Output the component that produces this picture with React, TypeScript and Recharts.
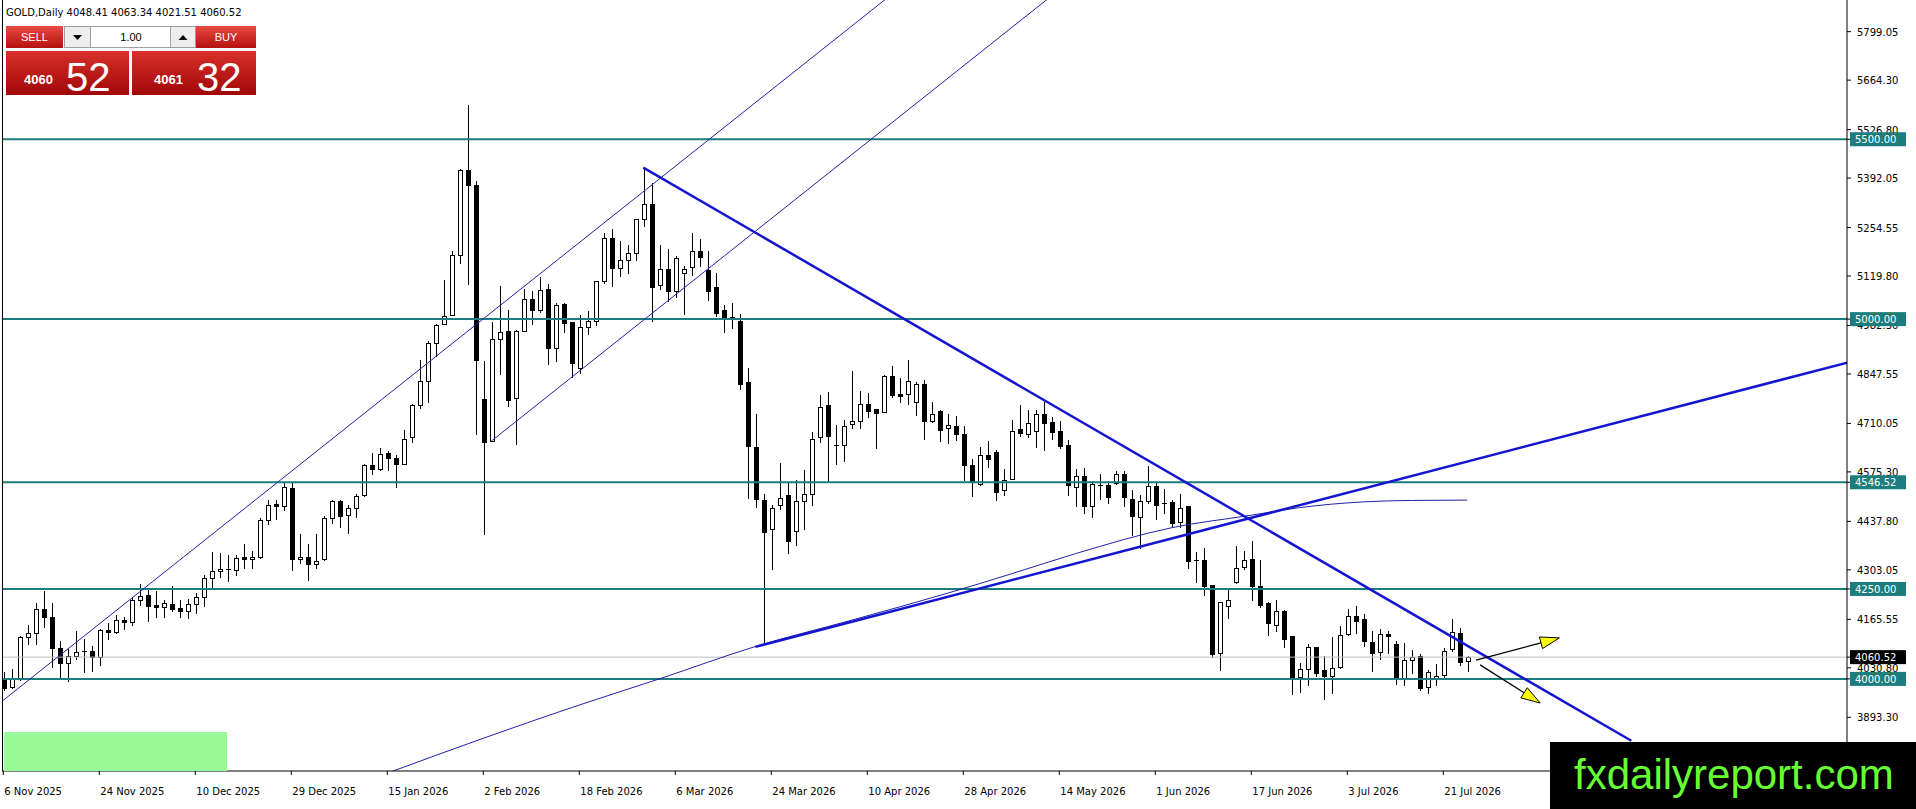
import React from "react";
import { ComposedChart, Bar, Line, XAxis, YAxis, ReferenceLine } from "recharts";

// GOLD daily bars, 6 Nov 2025 .. 24 Jul 2026 (index = bar number)
const OPEN = [
  3997, 3977, 4002, 4116, 4127, 4193, 4171, 4085, 4044, 4065,
  4076, 4078, 4062, 4136, 4129, 4164, 4157, 4219, 4234, 4206,
  4201, 4208, 4198, 4190, 4208, 4227, 4280, 4300, 4306, 4302,
  4339, 4332, 4338, 4443, 4485, 4480, 4531, 4332, 4338, 4319,
  4332, 4448, 4494, 4455, 4476, 4512, 4595, 4584, 4628, 4615,
  4596, 4671, 4760, 4829, 4934, 4986, 5012, 5178, 5415, 5372,
  4779, 4661, 4945, 4966, 4782, 4966, 5056, 5024, 5084, 4920,
  5042, 4993, 4865, 4977, 4995, 5106, 5226, 5143, 5164, 5185,
  5279, 5321, 5096, 5140, 5079, 5129, 5145, 5190, 5136, 5088,
  5025, 5005, 4996, 4824, 4645, 4497, 4416, 4483, 4511, 4412,
  4495, 4514, 4671, 4760, 4651, 4651, 4709, 4717, 4763, 4749,
  4742, 4841, 4792, 4791, 4769, 4820, 4717, 4746, 4698, 4702,
  4682, 4594, 4543, 4623, 4631, 4524, 4556, 4695, 4681, 4690,
  4736, 4715, 4690, 4651, 4533, 4565, 4480, 4540, 4540, 4544,
  4570, 4500, 4449, 4494, 4537, 4488, 4491, 4437, 4480, 4331,
  4330, 4261, 4072, 4204, 4268, 4312, 4332, 4257, 4210, 4150,
  4190, 4120, 4005, 4027, 4088, 4025, 4009, 4033, 4124, 4175,
  4166, 4102, 4076, 4125, 4097, 4002, 4053, 4064, 3977, 4000,
  4011, 4083, 4127, 4048.41,
];
const HIGH = [
  4018, 4027, 4118, 4150, 4212, 4245, 4212, 4104, 4082, 4134,
  4110, 4092, 4138, 4156, 4177, 4171, 4229, 4264, 4247, 4243,
  4218, 4258, 4219, 4221, 4240, 4289, 4352, 4349, 4345, 4345,
  4374, 4355, 4448, 4498, 4498, 4546, 4545, 4404, 4374, 4402,
  4454, 4497, 4498, 4482, 4515, 4598, 4629, 4643, 4633, 4622,
  4691, 4765, 4887, 4940, 4986, 5110, 5190, 5417, 5595, 5385,
  4883, 4993, 5091, 5024, 4969, 5084, 5077, 5118, 5098, 5044,
  5044, 4993, 5011, 5023, 5107, 5238, 5250, 5216, 5205, 5279,
  5418, 5379, 5205, 5194, 5176, 5147, 5238, 5222, 5190, 5127,
  5039, 5045, 5015, 4865, 4735, 4515, 4483, 4601, 4548, 4554,
  4580, 4685, 4790, 4797, 4705, 4719, 4857, 4799, 4794, 4749,
  4846, 4871, 4837, 4887, 4825, 4831, 4771, 4748, 4737, 4730,
  4702, 4612, 4645, 4660, 4635, 4584, 4719, 4761, 4747, 4747,
  4769, 4727, 4718, 4665, 4584, 4586, 4549, 4570, 4549, 4579,
  4579, 4525, 4510, 4592, 4544, 4528, 4496, 4515, 4480, 4354,
  4363, 4261, 4215, 4247, 4369, 4355, 4383, 4330, 4215, 4220,
  4192, 4120, 4044, 4097, 4088, 4064, 4116, 4146, 4194, 4203,
  4181, 4134, 4138, 4132, 4104, 4101, 4081, 4070, 4024, 4042,
  4085, 4166, 4141, 4063.34,
];
const LOW = [
  3968, 3975, 3997, 4097, 4097, 4144, 4034, 4005, 3995, 4055,
  4020, 4022, 4039, 4110, 4128, 4139, 4150, 4205, 4162, 4171,
  4173, 4190, 4171, 4168, 4182, 4203, 4256, 4284, 4273, 4290,
  4307, 4307, 4336, 4430, 4445, 4469, 4302, 4321, 4275, 4307,
  4330, 4432, 4423, 4406, 4450, 4508, 4569, 4580, 4580, 4534,
  4596, 4659, 4753, 4770, 4897, 4986, 5012, 5155, 5097, 4682,
  4404, 4661, 4848, 4759, 4654, 4966, 4987, 5019, 4876, 4883,
  4964, 4839, 4850, 4960, 4983, 5101, 5092, 5120, 5129, 5165,
  5259, 4995, 5085, 5050, 5062, 5013, 5124, 5148, 5053, 5009,
  4965, 4974, 4807, 4502, 4477, 4099, 4305, 4471, 4349, 4372,
  4418, 4483, 4659, 4548, 4598, 4606, 4698, 4698, 4728, 4642,
  4742, 4783, 4769, 4765, 4734, 4668, 4714, 4661, 4656, 4665,
  4552, 4509, 4538, 4589, 4497, 4511, 4556, 4676, 4673, 4644,
  4636, 4667, 4641, 4510, 4480, 4461, 4449, 4500, 4488, 4542,
  4480, 4399, 4364, 4488, 4445, 4461, 4422, 4423, 4307, 4268,
  4233, 4062, 4024, 4169, 4266, 4305, 4218, 4201, 4122, 4134,
  4090, 3958, 3963, 3982, 4007, 3944, 3962, 4030, 4122, 4127,
  4092, 4021, 4055, 4072, 3986, 3982, 4016, 3968, 3962, 3982,
  4005, 4078, 4039, 4021.51,
];
const CLOSE = [
  3975, 4002, 4116, 4127, 4193, 4171, 4085, 4044, 4065, 4076,
  4078, 4062, 4136, 4129, 4164, 4157, 4219, 4231, 4203, 4201,
  4210, 4194, 4190, 4208, 4227, 4280, 4300, 4305, 4302, 4337,
  4332, 4339, 4443, 4482, 4480, 4533, 4332, 4338, 4318, 4327,
  4448, 4494, 4452, 4476, 4508, 4595, 4584, 4626, 4615, 4596,
  4668, 4762, 4829, 4934, 4984, 5008, 5178, 5415, 5373, 4887,
  4659, 4945, 4965, 4776, 4966, 5056, 5024, 5081, 4920, 5040,
  4989, 4877, 4977, 4995, 5107, 5226, 5143, 5165, 5185, 5279,
  5321, 5088, 5140, 5079, 5171, 5138, 5190, 5173, 5079, 5018,
  5002, 5000, 4819, 4648, 4499, 4407, 4474, 4504, 4383, 4494,
  4514, 4668, 4756, 4675, 4647, 4702, 4718, 4763, 4746, 4740,
  4841, 4790, 4787, 4828, 4820, 4717, 4737, 4691, 4707, 4682,
  4594, 4550, 4621, 4612, 4520, 4554, 4690, 4683, 4712, 4736,
  4711, 4687, 4648, 4540, 4565, 4480, 4542, 4535, 4505, 4570,
  4505, 4452, 4494, 4537, 4484, 4485, 4432, 4474, 4329, 4329,
  4258, 4069, 4213, 4220, 4307, 4330, 4257, 4206, 4155, 4190,
  4110, 4000, 4027, 4088, 4016, 4007, 4029, 4122, 4175, 4162,
  4104, 4073, 4125, 4118, 4000, 4053, 4060, 3974, 4019, 4007,
  4078, 4130, 4048, 4060.52,
];

const DATE_TICKS = [0, 12, 24, 36, 48, 60, 72, 84, 96, 108, 120, 132, 144, 156, 168, 180];
const DATE_LABELS = [
  "6 Nov 2025", "24 Nov 2025", "10 Dec 2025", "29 Dec 2025", "15 Jan 2026", "2 Feb 2026",
  "18 Feb 2026", "6 Mar 2026", "24 Mar 2026", "10 Apr 2026", "28 Apr 2026", "14 May 2026",
  "1 Jun 2026", "17 Jun 2026", "3 Jul 2026", "21 Jul 2026",
];
const PRICE_TICKS = [
  5799.05, 5664.3, 5526.8, 5392.05, 5254.55, 5119.8, 4982.3, 4847.55,
  4710.05, 4575.3, 4437.8, 4303.05, 4165.55, 4030.8, 3893.3,
];
const LEVELS = [5500, 5000, 4546.52, 4250, 4000];
const BID = 4060.52;

// slow moving average drawn as the thin curve
const MA_BARS = [48, 60, 71, 82, 94, 106, 118, 126, 134, 146, 156, 162, 170, 176, 183];
const MA_VALUES = [3738, 3835, 3920, 4000, 4090, 4163, 4238, 4292, 4348, 4420, 4455, 4476, 4492, 4496, 4497];

// trend lines: [bar, price] anchors
const CHANNEL_LOW = [[-1, 3923], [111, 5902]];
const CHANNEL_HIGH = [[61, 4661], [131, 5898]];
const DOWN_TREND = [[80, 5421], [203.5, 3828]];
const UP_TREND = [[94, 4089], [231, 4882]];
const ARROW_UP = [[184.1, 4052], [194.5, 4114]];
const ARROW_DOWN = [[184.6, 4039], [192.1, 3933]];

const TEAL = "#1B7D7D";
const THIN = "#2121A6";
const THICK = "#1515D0";
const FONT = "DejaVu Sans";

const candles = OPEN.map((o, i) => ({ i, o, h: HIGH[i], l: LOW[i], c: CLOSE[i] }));
const maData = MA_BARS.map((b, k) => ({ i: b, v: MA_VALUES[k] }));

const seg = (p: number[][]) => [
  { x: p[0][0], y: p[0][1] },
  { x: p[1][0], y: p[1][1] },
];

function Candle(props: any) {
  const { x, y, width, height, payload } = props;
  if (!payload || x == null || y == null) return null;
  const top = Math.min(y, y + height);
  const bottom = Math.max(y, y + height);
  const span = payload.h - payload.l || 1;
  const py = (p: number) => top + ((payload.h - p) / span) * (bottom - top);
  const cx = Math.round(x + width / 2);
  const bull = payload.c >= payload.o;
  const yTop = Math.round(py(Math.max(payload.o, payload.c)));
  const yBot = Math.round(py(Math.min(payload.o, payload.c)));
  let body;
  if (yBot - yTop < 2) {
    body = <line x1={cx - 2} x2={cx + 3} y1={yTop + 0.5} y2={yTop + 0.5} stroke="#000" strokeWidth={1} />;
  } else if (bull) {
    body = <rect x={cx - 1.5} y={yTop + 0.5} width={4} height={yBot - yTop} fill="#fff" stroke="#000" strokeWidth={1} />;
  } else {
    body = <rect x={cx - 2} y={yTop} width={5} height={yBot - yTop + 1} fill="#000" />;
  }
  return (
    <g>
      <line x1={cx + 0.5} x2={cx + 0.5} y1={Math.round(top)} y2={Math.round(bottom) + 1} stroke="#000" strokeWidth={1} />
      {body}
    </g>
  );
}

function Arrow(props: any) {
  const { x1, y1, x2, y2 } = props;
  if (x1 == null || x2 == null) return null;
  const ang = Math.atan2(y2 - y1, x2 - x1);
  const len = 19;
  const half = 6;
  const bx = x2 - len * Math.cos(ang);
  const by = y2 - len * Math.sin(ang);
  const nx = -Math.sin(ang);
  const ny = Math.cos(ang);
  return (
    <g>
      <line x1={x1} y1={y1} x2={bx} y2={by} stroke="#000" strokeWidth={1.3} />
      <polygon
        points={`${x2},${y2} ${bx + nx * half},${by + ny * half} ${bx - nx * half},${by - ny * half}`}
        fill="#FFFF00"
        stroke="#000"
        strokeWidth={1}
      />
    </g>
  );
}

function DateTick(props: any) {
  const { x, payload } = props;
  const k = DATE_TICKS.indexOf(payload.value);
  return (
    <text x={x + 1} y={795} fontSize={10} fontFamily={FONT} fill="#000">
      {DATE_LABELS[k]}
    </text>
  );
}

function PriceTick(props: any) {
  const { x, y, payload } = props;
  const v = payload.value;
  const txt = v.toFixed(2);
  if (LEVELS.includes(v) || v === BID) {
    return (
      <g>
        <rect x={x - 3} y={y - 7} width={56} height={14} fill={v === BID ? "#000" : TEAL} />
        <text x={x + 2} y={y + 4} fontSize={10} fontFamily={FONT} fill="#fff">
          {txt}
        </text>
      </g>
    );
  }
  return (
    <text x={x + 4} y={y + 4} fontSize={10} fontFamily={FONT} fill="#000">
      {txt}
    </text>
  );
}

export default function App() {
  return (
    <div style={{ position: "absolute", left: 0, top: 0, width: 1916, height: 809, background: "#fff", overflow: "hidden" }}>
      <ComposedChart width={1916} height={809} data={candles} margin={{ top: 0, right: 0, bottom: 0, left: 2 }}>
        <XAxis
          dataKey="i"
          type="number"
          domain={[-0.1625, 230.46]}
          allowDataOverflow
          ticks={DATE_TICKS}
          interval={0}
          height={38}
          tickSize={4}
          tickLine={{ stroke: "#000" }}
          axisLine={{ stroke: "#000" }}
          tick={<DateTick />}
        />
        <YAxis
          orientation="right"
          type="number"
          domain={[3744, 5887]}
          allowDataOverflow
          ticks={[...PRICE_TICKS, ...LEVELS, BID]}
          interval={0}
          width={69}
          tickSize={4}
          tickLine={{ stroke: "#000" }}
          axisLine={{ stroke: "#000" }}
          tick={<PriceTick />}
        />
        <ReferenceLine y={BID} stroke="#C0C0C0" strokeWidth={1} />
        {LEVELS.map((v) => (
          <ReferenceLine key={v} y={v} stroke={TEAL} strokeWidth={2} />
        ))}
        <Bar dataKey={(d: any) => [d.l, d.h]} barSize={5} shape={<Candle />} isAnimationActive={false} />
        <Line data={maData} dataKey="v" type="monotone" stroke={THIN} strokeWidth={1} dot={false} activeDot={false} isAnimationActive={false} />
        <ReferenceLine segment={seg(CHANNEL_LOW)} stroke={THIN} strokeWidth={1} ifOverflow="hidden" />
        <ReferenceLine segment={seg(CHANNEL_HIGH)} stroke={THIN} strokeWidth={1} ifOverflow="hidden" />
        <ReferenceLine segment={seg(DOWN_TREND)} stroke={THICK} strokeWidth={2.5} ifOverflow="hidden" />
        <ReferenceLine segment={seg(UP_TREND)} stroke={THICK} strokeWidth={2.5} ifOverflow="hidden" />
        <ReferenceLine segment={seg(ARROW_UP)} ifOverflow="hidden" shape={Arrow} />
        <ReferenceLine segment={seg(ARROW_DOWN)} ifOverflow="hidden" shape={Arrow} />
      </ComposedChart>

      <svg width={1916} height={809} style={{ position: "absolute", left: 0, top: 0, pointerEvents: "none" }}>
        <defs>
          <linearGradient id="btnRed" x1="0" y1="0" x2="0" y2="1">
            <stop offset="0" stopColor="#E84A42" />
            <stop offset="1" stopColor="#B51010" />
          </linearGradient>
          <linearGradient id="panelRed" x1="0" y1="0" x2="0" y2="1">
            <stop offset="0" stopColor="#D8302A" />
            <stop offset="1" stopColor="#A00808" />
          </linearGradient>
        </defs>
        <line x1={2.5} y1={0} x2={2.5} y2={771} stroke="#000" strokeWidth={1} />
        <text x={6} y={16} fontSize={10} fontFamily={FONT} fill="#000">
          GOLD,Daily 4048.41 4063.34 4021.51 4060.52
        </text>

        <rect x={6} y={26} width={57} height={22} fill="url(#btnRed)" />
        <text x={34.5} y={41} fontSize={11} fontFamily="Liberation Sans" fill="#fff" textAnchor="middle">SELL</text>
        <rect x={64.5} y={26.5} width={26} height={21} fill="#EDEDED" stroke="#A0A0A0" />
        <polygon points="73,35 82,35 77.5,40" fill="#000" />
        <rect x={90.5} y={26.5} width={80} height={21} fill="#fff" stroke="#A0A0A0" />
        <text x={131} y={41} fontSize={11} fontFamily="Liberation Sans" fill="#000" textAnchor="middle">1.00</text>
        <rect x={170.5} y={26.5} width={25} height={21} fill="#EDEDED" stroke="#A0A0A0" />
        <polygon points="178.5,40 187.5,40 183,35" fill="#000" />
        <rect x={196} y={26} width={60} height={22} fill="url(#btnRed)" />
        <text x={226} y={41} fontSize={11} fontFamily="Liberation Sans" fill="#fff" textAnchor="middle">BUY</text>

        <rect x={6} y={51} width={123} height={44} fill="url(#panelRed)" />
        <text x={24} y={84} fontSize={13} fontWeight="bold" fontFamily="Liberation Sans" fill="#fff">4060</text>
        <text x={66} y={91} fontSize={40} fontFamily="Liberation Sans" fill="#fff">52</text>
        <rect x={132} y={51} width={124} height={44} fill="url(#panelRed)" />
        <text x={154} y={84} fontSize={13} fontWeight="bold" fontFamily="Liberation Sans" fill="#fff">4061</text>
        <text x={197} y={91} fontSize={40} fontFamily="Liberation Sans" fill="#fff">32</text>

        <rect x={4} y={732} width={223} height={39} fill="#98FB98" />
        <rect x={1550} y={742} width={366} height={67} fill="#000" />
        <text x={1574} y={789} fontSize={42} fontFamily="Liberation Sans" fill="#66FF33">fxdailyreport.com</text>
      </svg>
    </div>
  );
}
